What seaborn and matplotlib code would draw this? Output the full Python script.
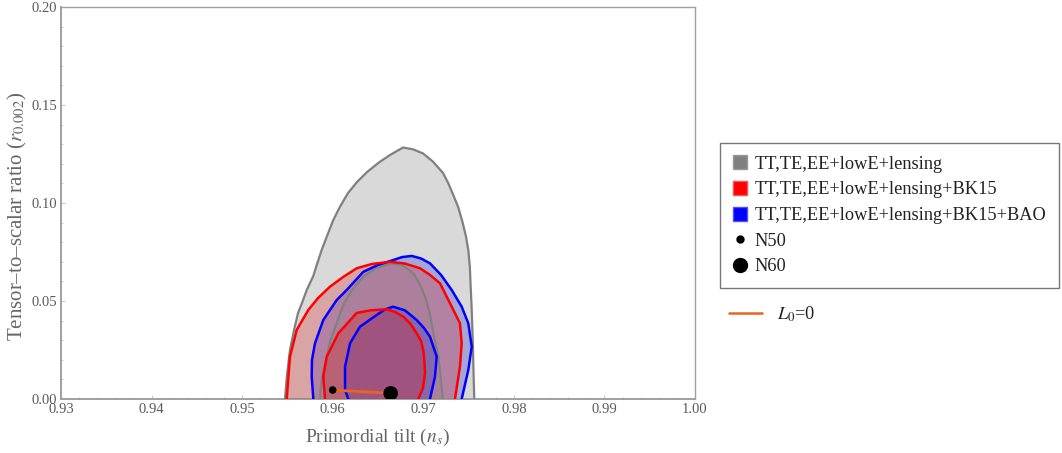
import matplotlib
matplotlib.use("Agg")
import matplotlib.pyplot as plt
import seaborn as sns
from matplotlib.lines import Line2D
from matplotlib.ticker import MultipleLocator, FormatStrFormatter

# ---------------- data ----------------
gray95_ns = [0.95473, 0.95495, 0.95528, 0.95573, 0.95617, 0.95661, 0.95713, 0.95786,
             0.95827, 0.95878, 0.95934, 0.96006, 0.96080, 0.96169, 0.96268, 0.96379,
             0.96511, 0.96633, 0.96776, 0.96886, 0.96997, 0.97107, 0.97218, 0.97276,
             0.97331, 0.97387, 0.97433, 0.97472, 0.97497, 0.97514, 0.97525, 0.97535,
             0.97546, 0.97554, 0.97563]
gray95_r = [0.0000, 0.0122, 0.0250, 0.0352, 0.0439, 0.0490, 0.0556, 0.0628,
            0.0689, 0.0760, 0.0828, 0.0913, 0.0981, 0.1051, 0.1107, 0.1158,
            0.1207, 0.1245, 0.1283, 0.1274, 0.1253, 0.1211, 0.1153, 0.1101,
            0.1041, 0.0977, 0.0903, 0.0828, 0.0760, 0.0675, 0.0556, 0.0454,
            0.0301, 0.0148, 0.0000]

gray68_ns = [0.95860, 0.95871, 0.95898, 0.95934, 0.95976, 0.96044, 0.96117, 0.96213,
             0.96338, 0.96478, 0.96651, 0.96776, 0.96890, 0.96942, 0.96991, 0.97038,
             0.97074, 0.97102, 0.97129, 0.97166, 0.97190, 0.97214]
gray68_r = [0.0000, 0.0071, 0.0148, 0.0216, 0.0301, 0.0386, 0.0480, 0.0556,
            0.0624, 0.0668, 0.0692, 0.0681, 0.0641, 0.0602, 0.0556, 0.0495,
            0.0429, 0.0362, 0.0291, 0.0216, 0.0122, 0.0000]

red95_ns = [0.95492, 0.95528, 0.95602, 0.95730, 0.95838, 0.95970, 0.96114, 0.96265,
            0.96434, 0.96633, 0.96798, 0.96964, 0.97074, 0.97185, 0.97314, 0.97405,
            0.97424, 0.97405, 0.97350]
red95_r = [0.0000, 0.0216, 0.0352, 0.0454, 0.0515, 0.0573, 0.0622, 0.0667,
           0.0689, 0.0700, 0.0691, 0.0667, 0.0633, 0.0590, 0.0471, 0.0386,
           0.0284, 0.0165, 0.0000]

blue95_ns = [0.95786, 0.95768, 0.95771, 0.95804, 0.95896, 0.96044, 0.96154, 0.96338,
             0.96500, 0.96669, 0.96765, 0.96872, 0.96975, 0.97074, 0.97196, 0.97314,
             0.97424, 0.97497, 0.97535, 0.97497, 0.97424]
blue95_r = [0.0000, 0.0114, 0.0199, 0.0284, 0.0403, 0.0505, 0.0556, 0.0649,
            0.0684, 0.0709, 0.0724, 0.0730, 0.0717, 0.0692, 0.0633, 0.0556,
            0.0471, 0.0386, 0.0267, 0.0148, 0.0000]

red68_ns = [0.95915, 0.95896, 0.95934, 0.96062, 0.96265, 0.96412, 0.96596, 0.96688,
            0.96779, 0.96859, 0.96927, 0.96975, 0.97000, 0.97013, 0.97019, 0.96997,
            0.96945]
red68_r = [0.0000, 0.0114, 0.0216, 0.0335, 0.0439, 0.0452, 0.0458, 0.0444,
           0.0420, 0.0383, 0.0335, 0.0296, 0.0250, 0.0189, 0.0131, 0.0056,
           0.0000]

blue68_ns = [0.96172, 0.96136, 0.96136, 0.96191, 0.96301, 0.96486, 0.96577, 0.96666,
             0.96798, 0.96927, 0.97008, 0.97074, 0.97148, 0.97129, 0.97074]
blue68_r = [0.0000, 0.0046, 0.0165, 0.0284, 0.0369, 0.0429, 0.0457, 0.0471,
            0.0452, 0.0403, 0.0362, 0.0318, 0.0216, 0.0114, 0.0000]

n50_ns, n50_r = [0.9600], [0.0046]
n60_ns, n60_r = [0.9664], [0.0029]

legend_labels = ["TT,TE,EE+lowE+lensing",
                 "TT,TE,EE+lowE+lensing+BK15",
                 "TT,TE,EE+lowE+lensing+BK15+BAO",
                 "N50", "N60"]
line_label = "$L_0$=0"
xlabel = "Primordial tilt ($n_s$)"
ylabel = "Tensor\u2013to\u2013scalar ratio ($r_{0.002}$)"

# ---------------- style ----------------
sns.set_theme(style="white")
plt.rcParams["font.family"] = ["Liberation Serif", "DejaVu Serif"]
plt.rcParams["mathtext.fontset"] = "stix"

RED_FILL = (214/255, 44/255, 44/255)
BLUE_FILL = (44/255, 54/255, 210/255)
ORANGE = "#e6661e"
FRAME = "#a0a0a0"
TXT = "#5a5a5a"

fig = plt.figure(figsize=(10.62, 4.53), dpi=100)
ax = fig.add_axes([61/1062, 1-399/453, 634/1062, 392/453])

# fills
ax.fill(gray95_ns, gray95_r, color="#d9d9d9", lw=0, zorder=1)
ax.fill(blue95_ns, blue95_r, color=BLUE_FILL, alpha=0.3, lw=0, zorder=2)
ax.fill(red95_ns, red95_r, color=RED_FILL, alpha=0.3, lw=0, zorder=3)
ax.fill(gray68_ns, gray68_r, color="#808080", alpha=0.12, lw=0, zorder=4)
ax.fill(blue68_ns, blue68_r, color=BLUE_FILL, alpha=0.3, lw=0, zorder=5)
ax.fill(red68_ns, red68_r, color=RED_FILL, alpha=0.35, lw=0, zorder=6)

# contour lines
kw = dict(sort=False, estimator=None, ax=ax, legend=False)
sns.lineplot(x=gray95_ns, y=gray95_r, color="#808080", lw=1.6, zorder=7, **kw)
sns.lineplot(x=gray68_ns, y=gray68_r, color="#808080", lw=1.6, zorder=7, **kw)
sns.lineplot(x=blue95_ns, y=blue95_r, color="#0000ff", lw=1.8, zorder=8, **kw)
sns.lineplot(x=blue68_ns, y=blue68_r, color="#0000ff", lw=1.8, zorder=8, **kw)
sns.lineplot(x=red95_ns, y=red95_r, color="#ff0000", lw=1.8, zorder=9, **kw)
sns.lineplot(x=red68_ns, y=red68_r, color="#ff0000", lw=1.8, zorder=9, **kw)

# N50 -> N60 line and points
sns.lineplot(x=n50_ns + n60_ns, y=n50_r + n60_r, color=ORANGE, lw=2.0, zorder=10, **kw)
sns.scatterplot(x=n50_ns, y=n50_r, s=30, color="black", edgecolor="none", zorder=11, ax=ax, legend=False)
sns.scatterplot(x=n60_ns, y=n60_r, s=110, color="black", edgecolor="none", zorder=11, ax=ax, legend=False)

# axes
ax.set_xlim(0.93, 1.00)
ax.set_ylim(0.0, 0.20)
ax.xaxis.set_major_locator(MultipleLocator(0.01))
ax.yaxis.set_major_locator(MultipleLocator(0.05))
ax.yaxis.set_minor_locator(MultipleLocator(0.01))
ax.xaxis.set_minor_locator(MultipleLocator(0.002))
ax.xaxis.set_major_formatter(FormatStrFormatter("%.2f"))
ax.yaxis.set_major_formatter(FormatStrFormatter("%.2f"))
ax.tick_params(which="both", direction="in", color="#c8c8c8", labelcolor=TXT,
               labelsize=10.5, pad=3, bottom=True, left=True)
ax.tick_params(which="major", length=3, width=0.8)
ax.tick_params(which="minor", length=1.5, width=0.6)
for s in ax.spines.values():
    s.set_color(FRAME)
    s.set_linewidth(1.0)
ax.spines["bottom"].set_linewidth(1.4)
ax.spines["left"].set_linewidth(1.4)
ax.set_xlabel(xlabel, fontsize=14, color="#666666")
ax.xaxis.set_label_coords(0.5, -(437 - 399) / 392, transform=ax.transAxes)
ax.xaxis.label.set_va("center")
ax.set_ylabel(ylabel, fontsize=15, color="#666666")
ax.yaxis.set_label_coords(-(61 - 17) / 634, (399 - 216) / 392, transform=ax.transAxes)
ax.yaxis.label.set_va("center")

# legends
handles = [
    Line2D([], [], ls="", marker="s", markersize=10, markerfacecolor="#808080", markeredgecolor="#9a9a9a"),
    Line2D([], [], ls="", marker="s", markersize=10, markerfacecolor="#ff0000", markeredgecolor="#ff5050"),
    Line2D([], [], ls="", marker="s", markersize=10, markerfacecolor="#0000ff", markeredgecolor="#5050ff"),
    Line2D([], [], ls="", marker="o", markersize=5, markerfacecolor="black", markeredgecolor="black"),
    Line2D([], [], ls="", marker="o", markersize=10, markerfacecolor="black", markeredgecolor="black"),
]
leg1 = fig.legend(handles, legend_labels, loc="upper left", bbox_to_anchor=(720/1062, 1-143/453),
                  frameon=True, fancybox=False, edgecolor="#555555", fontsize=13.2,
                  handlelength=0.8, handletextpad=0.4, labelspacing=0.47, borderpad=0.7,
                  borderaxespad=0)
leg1.get_frame().set_linewidth(1.0)
for t in leg1.get_texts():
    t.set_color("#222222")

h2 = [Line2D([], [], color=ORANGE, lw=1.8)]
leg2 = fig.legend(h2, [line_label], loc="center left", bbox_to_anchor=(722/1062, 1-314/453),
                  frameon=False, fontsize=13.2, handlelength=1.8, handletextpad=0.8, borderaxespad=0)
for t in leg2.get_texts():
    t.set_color("#222222")

fig.savefig("out.png", dpi=100)
